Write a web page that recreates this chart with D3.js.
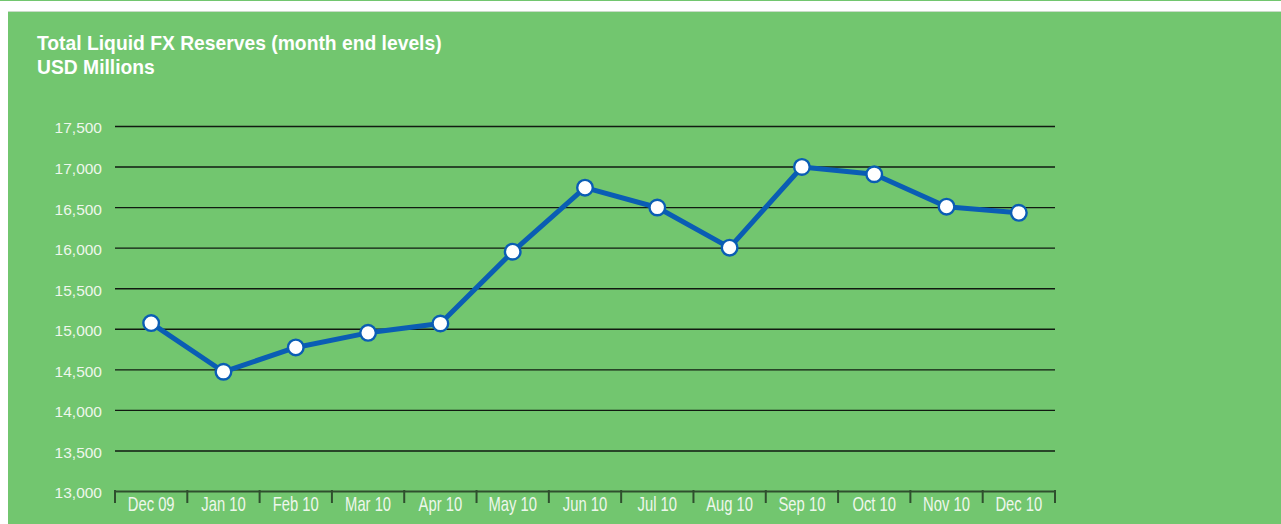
<!DOCTYPE html>
<html>
<head>
<meta charset="utf-8">
<script src="https://cdn.jsdelivr.net/npm/d3@7"></script>
<style>
  html, body { margin: 0; padding: 0; background: #ffffff; }
  svg { display: block; }
</style>
</head>
<body>
<svg id="chart" width="1281" height="524"></svg>
<script>
// Month-end levels of total liquid FX reserves, USD millions
const months = ["Dec 09", "Jan 10", "Feb 10", "Mar 10", "Apr 10", "May 10", "Jun 10",
                "Jul 10", "Aug 10", "Sep 10", "Oct 10", "Nov 10", "Dec 10"];
const reserves = [15070, 14470, 14770, 14950, 15065, 15950, 16740,
                  16495, 16000, 16995, 16905, 16505, 16430];
const yTicks = [13000, 13500, 14000, 14500, 15000, 15500, 16000, 16500, 17000, 17500];
const titleLines = ["Total Liquid FX Reserves (month end levels)", "USD Millions"];

const W = 1281, H = 524;
const svg = d3.select("#chart");

// panel background
svg.append("rect").attr("x", 0).attr("y", 0).attr("width", W).attr("height", 1).attr("fill", "#72c66f");
svg.append("rect").attr("x", 8).attr("y", 11).attr("width", W - 8).attr("height", 1).attr("fill", "#c9dcc8");
svg.append("rect").attr("x", 8).attr("y", 12).attr("width", W - 8).attr("height", H - 12).attr("fill", "#72c66f");

// title
const title = svg.append("text")
  .attr("x", 37).attr("y", 50)
  .attr("fill", "#ffffff")
  .style("font-family", "'Liberation Sans', Arial, sans-serif")
  .style("font-size", "19.3px")
  .style("font-weight", "bold");
titleLines.forEach((t, i) => {
  title.append("tspan").attr("x", 37).attr("dy", i === 0 ? 0 : 23.5).text(t);
});

const x = d3.scaleBand().domain(months).range([115, 1055]).padding(0);
const y = d3.scaleLinear().domain([13000, 17500]).range([491, 126]);

// horizontal gridlines with y labels
const yAxis = d3.axisLeft(y)
  .tickValues(yTicks)
  .tickSize(-(1055 - 115))
  .tickPadding(13)
  .tickFormat(d3.format(","));
const gy = svg.append("g").attr("transform", "translate(115,0)").call(yAxis);
gy.select(".domain").remove();
gy.selectAll(".tick line")
  .attr("stroke", "#111a11")
  .attr("stroke-width", 1.4)
  .filter(d => d === 13000).remove();
gy.selectAll(".tick text")
  .attr("fill", "#eef7ec")
  .attr("dy", "0.45em")
  .style("font-family", "'Liberation Sans', Arial, sans-serif")
  .style("font-size", "15.5px");

// category axis along the bottom
const xAxis = d3.axisBottom(x).tickSize(0).tickPadding(10);
const gx = svg.append("g").attr("transform", "translate(0,491)").call(xAxis);
gx.select(".domain")
  .attr("stroke", "#2f4f2e")
  .attr("stroke-width", 2);
// condensed month labels
gx.selectAll(".tick text")
  .attr("fill", "#eef7ec")
  .attr("y", 20.5)
  .attr("dy", 0)
  .attr("transform", "scale(0.74,1)")
  .style("font-family", "'Liberation Sans', Arial, sans-serif")
  .style("font-size", "20px");
// band separators
const edges = months.map(m => x(m)).concat([x.range()[1]]);
gx.selectAll(".sep").data(edges).enter().append("line")
  .attr("class", "sep")
  .attr("x1", d => d).attr("x2", d => d)
  .attr("y1", -1).attr("y2", 12)
  .attr("stroke", "#2f4f2e")
  .attr("stroke-width", 2);

// series line
const cx = m => x(m) + x.bandwidth() / 2;
const line = d3.line().x((d, i) => cx(months[i])).y(d => y(d));
svg.append("path")
  .datum(reserves)
  .attr("d", line)
  .attr("fill", "none")
  .attr("stroke", "#0a5db4")
  .attr("stroke-width", 5)
  .attr("stroke-linejoin", "round");

// markers
svg.selectAll(".pt").data(reserves).enter().append("circle")
  .attr("class", "pt")
  .attr("cx", (d, i) => cx(months[i]))
  .attr("cy", d => y(d))
  .attr("r", 7.8)
  .attr("fill", "#ffffff")
  .attr("stroke", "#0a5db4")
  .attr("stroke-width", 2.4);
</script>
</body>
</html>
